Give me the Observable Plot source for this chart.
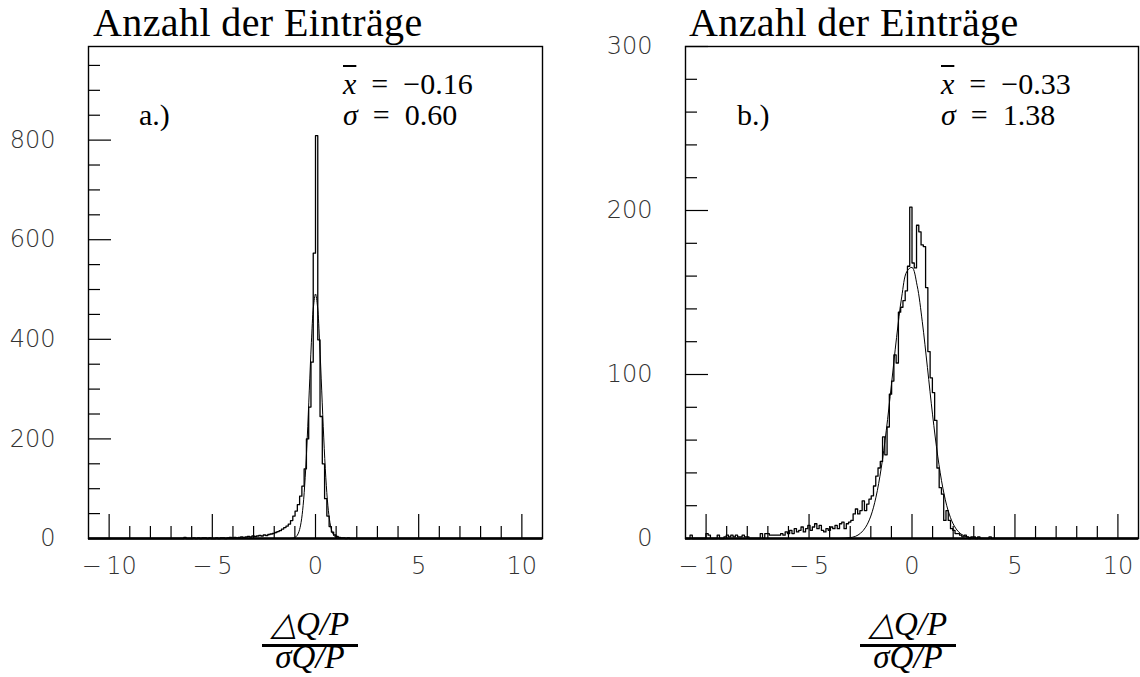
<!DOCTYPE html>
<html>
<head>
<meta charset="utf-8">
<script src="https://cdn.jsdelivr.net/npm/d3@7"></script>
<script src="https://cdn.jsdelivr.net/npm/@observablehq/plot@0.6"></script>
<style>
  body { margin: 0; background: #fff; }
  #page { position: relative; width: 1140px; height: 677px; overflow: hidden; background: #fff; }
  .panel { position: absolute; top: 0; width: 570px; height: 677px; }
  .serif { position: absolute; font-family: "Liberation Serif", "Times New Roman", serif; line-height: 1; white-space: nowrap; color: #000; }
  .title { font-size: 40px; letter-spacing: 0.4px; }
  .stat { font-size: 30px; }
  .ovl { text-decoration: overline; text-decoration-thickness: 1.5px; }
  .frac { font-size: 33px; font-style: italic; text-align: center; width: 140px; }
  .bar { position: absolute; height: 3px; background: #000; }
</style>
</head>
<body>
<div id="page">
  <div class="panel" id="pa" style="left:0"></div>
  <div class="panel" id="pb" style="left:570px"></div>
</div>
<script>
// ---------------- data ----------------
const binStart = -11;
const binWidth = 0.11;

// panel a.) histogram counts, 200 bins of width 0.11 from -11
const countsA = [
  0,0,0,0,0,0,0,0,0,0,
  0,0,0,0,0,0,0,0,0,0,
  0,0,0,0,0,0,0,0,0,0,
  0,0,0,0,0,0,0,0,0,0,
  0,0,2,0,0,0,1,0,1,0,
  1,1,0,1,0,0,1,0,1,1,
  0,1,2,1,2,1,2,3,2,3,
  4,3,5,4,5,6,5,7,6,8,
  9,10,12,14,16,19,22,25,29,36,
  45,55,68,85,105,140,200,264,354,573,
  809,399,245,150,80,45,24,13,7,4,
  2,1,1,0,1,0,0,0,0,0,
  0,0,0,0,0,0,0,0,0,0,
  0,0,0,0,0,0,0,0,0,0,
  0,0,0,0,0,0,0,0,0,0,
  0,0,0,0,0,0,0,0,0,0,
  0,0,0,0,0,0,0,0,0,0,
  0,0,0,0,0,0,0,0,0,0,
  0,0,0,0,0,0,0,0,0,0,
  0,0,0,0,0,0,0,0,0,0
];

// panel b.) histogram counts
const countsB = [
  0,0,2,0,0,0,0,0,0,3,
  2,0,0,0,2,0,0,1,2,1,
  2,1,2,1,1,2,1,1,0,0,
  0,0,0,3,0,3,3,2,2,2,
  2,2,3,2,4,3,5,3,6,4,
  5,7,4,6,8,5,7,9,6,8,
  5,4,6,5,7,6,8,6,9,10,
  6,9,10,11,15,18,15,17,23,17,
  21,24,26,32,38,43,47,62,51,68,
  88,96,112,107,138,141,145,151,166,202,
  168,165,191,187,179,178,153,114,98,89,
  72,43,31,27,11,17,11,6,5,3,
  3,2,1,2,1,0,1,1,0,1,
  0,0,0,0,1,0,0,0,0,0,
  0,0,0,0,0,0,0,0,0,0,
  0,0,0,0,0,0,0,0,0,0,
  0,0,0,0,0,0,0,0,0,0,
  0,0,0,0,0,0,0,0,0,0,
  0,0,0,0,0,0,0,0,0,0,
  0,0,0,0,0,0,0,0,0,0
];

// fitted Gaussian curves
const fitAx = [-1.2,-1.1,-1.0,-0.9,-0.8,-0.7,-0.6,-0.5,-0.4,-0.3,-0.2,-0.1,0,0.1,0.2,0.3,0.4,0.5,0.6,0.7,0.8,0.9,1.0,1.1,1.2];
const fitAy = [0.2,0.6,1.9,5.5,14,32,66,122,202,298,393,465,491,465,393,298,202,122,66,32,14,5.5,1.9,0.6,0.2];
const fitBx = [-3.5,-3.25,-3.0,-2.75,-2.5,-2.25,-2.0,-1.75,-1.5,-1.25,-1.0,-0.75,-0.5,-0.25,0,0.25,0.5,0.75,1.0,1.25,1.5,1.75,2.0,2.25,2.5,2.75,3.0,3.25,3.5];
const fitBy = [0.06,0.19,0.52,1.3,3.2,6.9,13.7,25.2,42.5,65.8,93.7,122.5,147.3,162.8,165.3,154.2,132.2,104.2,75.4,50.2,30.7,17.2,8.9,4.2,1.8,0.74,0.27,0.09,0.03];

// axes
const xDomain = [-11, 11];
const xMajor = [-10, -5, 0, 5, 10];
const xMinor = [-9, -8, -7, -6, -4, -3, -2, -1, 1, 2, 3, 4, 6, 7, 8, 9];
const yDomainA = [0, 988];
const yMajorA = [0, 200, 400, 600, 800];
const yMinorA = [50, 100, 150, 250, 300, 350, 450, 500, 550, 650, 700, 750, 850, 900, 950];
const yDomainB = [0, 300];
const yMajorB = [0, 100, 200, 300];
const yMinorB = [20, 40, 60, 80, 120, 140, 160, 180, 220, 240, 260, 280];

// texts
const titleText = "Anzahl der Einträge";
const panelLabels = ["a.)", "b.)"];
const meanValues = ["−0.16", "−0.33"];
const sigmaValues = ["0.60", "1.38"];

// ---------------- drawing ----------------
const W = 570, H = 677;
const fmt = d => d < 0 ? "\u2212\u2009" + Math.abs(d) : String(d);

function panel({counts, fitX, fitY, yDomain, yMajor, yMinor, mL, mR}) {
  const mT = 46, mB = 139;
  const frameW = W - mL - mR, frameH = H - mT - mB;
  const hist = counts.map((c, i) => ({x: binStart + i * binWidth, y: c}));
  hist.push({x: binStart + counts.length * binWidth, y: 0});
  const fit = fitX.map((x, i) => ({x, y: fitY[i]}));
  return Plot.plot({
    width: W, height: H,
    marginLeft: mL, marginRight: mR, marginTop: mT, marginBottom: mB,
    style: {fontFamily: "'DejaVu Sans', 'Liberation Sans', sans-serif", fontSize: "24px", background: "transparent"},
    x: {domain: xDomain, label: null},
    y: {domain: yDomain, label: null},
    marks: [
      Plot.line(hist, {x: "x", y: "y", curve: "step-after", stroke: "#000", strokeWidth: 1.3}),
      Plot.line(fit, {x: "x", y: "y", curve: "catmull-rom", stroke: "#000", strokeWidth: 1}),
      Plot.tickX(xMinor, {x: d => d, insetTop: frameH - 12, stroke: "#000", strokeWidth: 1.2}),
      Plot.tickX(xMajor, {x: d => d, insetTop: frameH - 24, stroke: "#000", strokeWidth: 1.2}),
      Plot.tickY(yMinor, {y: d => d, insetRight: frameW - 12, stroke: "#000", strokeWidth: 1.2}),
      Plot.tickY(yMajor, {y: d => d, insetRight: frameW - 23, stroke: "#000", strokeWidth: 1.2}),
      Plot.frame({stroke: "#000", strokeWidth: 1.4}),
      Plot.ruleY([yDomain[0]], {stroke: "#000", strokeWidth: 2.4}),
      Plot.axisX({ticks: xMajor, tickSize: 0, tickPadding: 18, tickFormat: fmt, fill: "#333", fontWeight: 200, label: null}),
      Plot.axisY({ticks: yMajor, tickSize: 0, tickPadding: 33, tickFormat: fmt, fill: "#333", fontWeight: 200, label: null})
    ]
  });
}

document.getElementById("pa").appendChild(panel({counts: countsA, fitX: fitAx, fitY: fitAy, yDomain: yDomainA, yMajor: yMajorA, yMinor: yMinorA, mL: 88, mR: 28}));
document.getElementById("pb").appendChild(panel({counts: countsB, fitX: fitBx, fitY: fitBy, yDomain: yDomainB, yMajor: yMajorB, yMinor: yMinorB, mL: 115, mR: 2}));

// overlay texts
function addText(parent, html, cls, left, top) {
  const d = document.createElement("div");
  d.className = "serif " + cls;
  d.innerHTML = html;
  d.style.left = left + "px";
  d.style.top = top + "px";
  parent.appendChild(d);
  return d;
}
const layouts = [
  {el: "pa", titleX: 93, statX: 343, labelX: 139, fracC: 310},
  {el: "pb", titleX: 119, statX: 371, labelX: 167, fracC: 338}
];
layouts.forEach((L, i) => {
  const p = document.getElementById(L.el);
  addText(p, titleText, "title", L.titleX, 3);
  addText(p, '<span class="ovl"><i>x</i></span>&nbsp;&nbsp;=&nbsp;&nbsp;' + meanValues[i], "stat", L.statX, 69);
  addText(p, '<i>σ</i>&nbsp;&nbsp;=&nbsp;&nbsp;' + sigmaValues[i], "stat", L.statX, 100);
  addText(p, panelLabels[i], "stat", L.labelX, 100);
  addText(p, '△<i>Q</i>/<i>P</i>', "frac", L.fracC - 70, 608);
  const bar = document.createElement("div");
  bar.className = "bar";
  Object.assign(bar.style, {left: (L.fracC - 48) + "px", top: "644px", width: "96px"});
  p.appendChild(bar);
  addText(p, '<i>σQ</i>/<i>P</i>', "frac", L.fracC - 70, 641);
});
</script>
</body>
</html>
